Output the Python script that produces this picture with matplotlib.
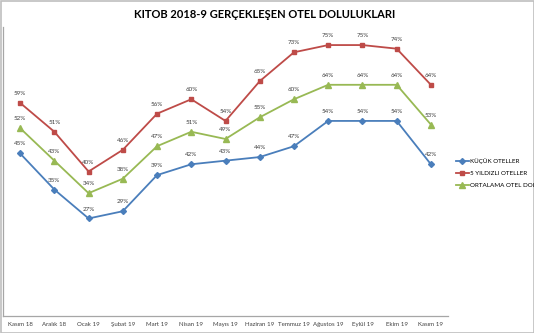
import matplotlib
matplotlib.use('Agg')
import matplotlib.pyplot as plt
from matplotlib.patches import Rectangle

months = ['Kasım 18', 'Aralık 18', 'Ocak 19', 'Şubat 19', 'Mart 19', 'Nisan 19',
          'Mayıs 19', 'Haziran 19', 'Temmuz 19', 'Ağustos 19', 'Eylül 19',
          'Ekim 19', 'Kasım 19']

kucuk    = [45, 35, 27, 29, 39, 42, 43, 44, 47, 54, 54, 54, 42]
yildizli = [59, 51, 40, 46, 56, 60, 54, 65, 73, 75, 75, 74, 64]
ortalama = [52, 43, 34, 38, 47, 51, 49, 55, 60, 64, 64, 64, 53]

series = [
    ('KÜÇÜK OTELLER', kucuk, '#4A7EBB', 'D', 3),
    ('5 YILDIZLI OTELLER', yildizli, '#BE4B48', 's', 3.5),
    ('ORTALAMA OTEL DOLULUĞU', ortalama, '#98B954', '^', 4),
]

plt.rcParams['font.family'] = ['Lato', 'DejaVu Sans']

W, H = 534, 333
fig = plt.figure(figsize=(W / 100, H / 100), dpi=100)
fig.patches.append(Rectangle((0.5 / W, 0.5 / H), 1 - 1 / W, 1 - 1 / H,
                             transform=fig.transFigure, fill=False,
                             edgecolor='#BFBFBF', linewidth=1.2))

ax = fig.add_axes([3 / W, (H - 316) / H, (448 - 3) / W, (316 - 27) / H])

x = list(range(len(months)))
for name, vals, col, mk, ms in series:
    ax.plot(x, vals, color=col, marker=mk, markersize=ms, linewidth=1.3, label=name)
    for xi, v in zip(x, vals):
        ax.annotate('{}%'.format(v), (xi, v), xytext=(0, 5), textcoords='offset points',
                    ha='center', va='bottom', fontsize=4.5, color='#404040')

ax.set_xlim(-0.5, len(months) - 0.5)
ax.set_ylim(0, 80)
ax.set_xticks(x)
ax.set_xticklabels(months, fontsize=4.4, color='#404040')
ax.tick_params(axis='x', length=0, pad=4)
ax.set_yticks([])
for s in ['top', 'right']:
    ax.spines[s].set_visible(False)
for s in ['left', 'bottom']:
    ax.spines[s].set_color('#A6A6A6')
    ax.spines[s].set_linewidth(0.9)

fig.text(265 / W, 1 - 14 / H, 'KITOB 2018-9 GERÇEKLEŞEN OTEL DOLULUKLARI',
         ha='center', va='center', fontsize=8, fontweight='bold', color='black')

# legend sits at the right edge; the last label runs off the frame as in the original
fig.legend(loc='upper left', bbox_to_anchor=(453 / W, 1 - 156 / H), frameon=False,
           fontsize=4.5, handlelength=2.2, handletextpad=0.1, labelspacing=1.0,
           borderaxespad=0)

fig.savefig('out.png', dpi=100)
